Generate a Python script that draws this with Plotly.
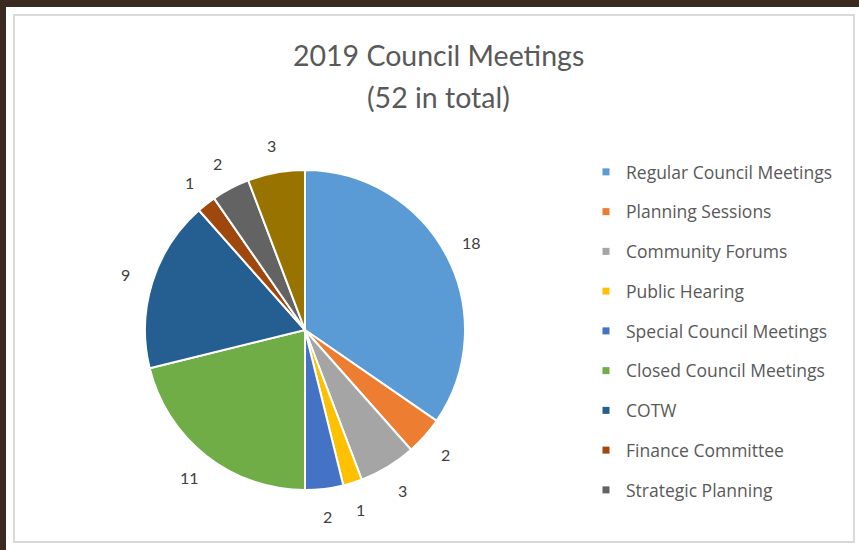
import math
import plotly.graph_objects as go

# Meeting counts by type (2019)
categories = [
    "Regular Council Meetings",
    "Planning Sessions",
    "Community Forums",
    "Public Hearing",
    "Special Council Meetings",
    "Closed Council Meetings",
    "COTW",
    "Finance Committee",
    "Strategic Planning",
    "Other",
]
values = [18, 2, 3, 1, 2, 11, 9, 1, 2, 3]
colors = [
    "#5B9BD5", "#ED7D31", "#A5A5A5", "#FFC000", "#4472C4",
    "#70AD47", "#255E91", "#9E480E", "#636363", "#997300",
]
legend_count = 9  # legend box only has room for the first nine types

W, H = 859, 550
cx, cy, R = 305, 330, 160
label_r = R + 28

fig = go.Figure()

fig.add_trace(go.Pie(
    labels=categories,
    values=values,
    sort=False,
    direction="clockwise",
    rotation=0,
    marker=dict(colors=colors, line=dict(color="white", width=2)),
    textinfo="none",
    hoverinfo="label+value",
    showlegend=False,
    domain=dict(x=[(cx - R) / W, (cx + R) / W],
                y=[1 - (cy + R) / H, 1 - (cy - R) / H]),
))

# Legend entries as marker-only traces
for name, col in zip(categories[:legend_count], colors[:legend_count]):
    fig.add_trace(go.Scatter(
        x=[None], y=[None], mode="markers", name=name, legendgroup=name,
        marker=dict(symbol="square", size=7, color=col),
    ))

# Value labels placed just outside each slice's mid-angle
annotations = []
total = sum(values)
cum = 0
for v in values:
    mid = (cum + v / 2) / total * 2 * math.pi
    cum += v
    px = cx + label_r * math.sin(mid)
    py = cy - label_r * math.cos(mid)
    annotations.append(dict(
        x=px / W, y=1 - py / H, xref="paper", yref="paper",
        xanchor="center", yanchor="middle",
        text=str(v), showarrow=False,
        font=dict(family="Lato", size=16, color="#404040"),
    ))

# Two-line chart title
title_font = dict(family="Lato", size=28.5, color="#595959")
annotations.append(dict(x=438 / W, y=1 - 55 / H, xref="paper", yref="paper",
                        xanchor="center", yanchor="middle",
                        text="2019 Council Meetings", showarrow=False,
                        font=title_font))
annotations.append(dict(x=438 / W, y=1 - 97 / H, xref="paper", yref="paper",
                        xanchor="center", yanchor="middle",
                        text="(52 in total)", showarrow=False,
                        font=title_font))

shapes = [
    # white card on dark frame
    dict(type="rect", xref="paper", yref="paper", layer="below",
         x0=6 / W, x1=1, y0=0, y1=1 - 7 / H,
         fillcolor="white", line=dict(width=0)),
    # chart area border
    dict(type="rect", xref="paper", yref="paper", layer="below",
         x0=14 / W, x1=854 / W, y0=1 - 542 / H, y1=1 - 15 / H,
         fillcolor="white", line=dict(color="#D9D9D9", width=2)),
]

fig.update_layout(
    width=W, height=H,
    margin=dict(l=0, r=0, t=0, b=0),
    paper_bgcolor="#3B2A1F",
    plot_bgcolor="rgba(0,0,0,0)",
    xaxis=dict(visible=False),
    yaxis=dict(visible=False),
    shapes=shapes,
    annotations=annotations,
    legend=dict(
        x=586 / W, y=1 - 154 / H, xanchor="left", yanchor="top",
        font=dict(family="Open Sans", size=17.5, color="#595959"),
        tracegroupgap=14, itemwidth=30,
        bgcolor="rgba(0,0,0,0)",
    ),
)

fig.write_html("out.html")
